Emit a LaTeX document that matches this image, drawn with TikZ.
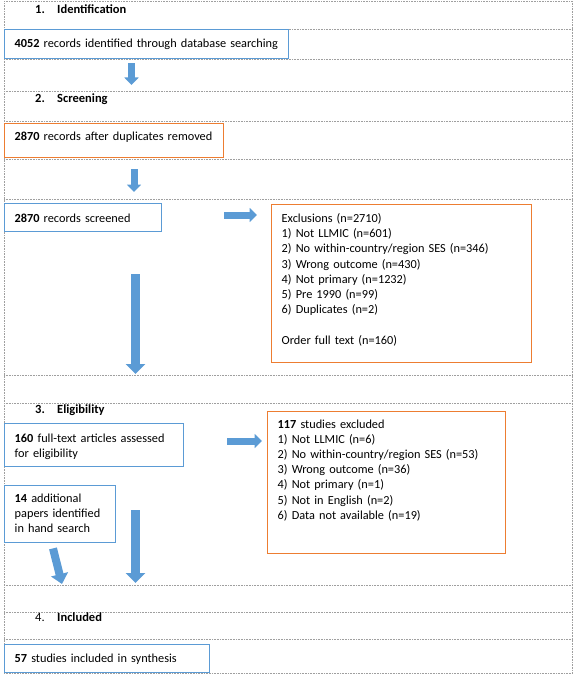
\documentclass[tikz,border=0pt]{standalone}
\usepackage{fontspec}
\setmainfont{Carlito}
\usepackage{tikz}
\usetikzlibrary{arrows.meta,calc}
\definecolor{boxblue}{HTML}{5B9BD5}
\definecolor{boxorange}{HTML}{ED7D31}
\definecolor{arrowblue}{HTML}{5B9BD5}
\pgfdeclarelayer{background}
\pgfsetlayers{background,main}
\tikzstyle{record}=[draw=boxblue, fill=white, line width=1.4pt, anchor=north west,
  inner xsep=10pt, inner ysep=0pt, align=left, font=\fontsize{12.3}{15.2}\selectfont]
\tikzstyle{excluded}=[record, draw=boxorange]
\tikzstyle{stagehead}=[anchor=base west, inner sep=0pt,
  font=\bfseries\fontsize{12.5}{14}\selectfont]
\tikzstyle{flow}=[draw=arrowblue, line width=7pt, -{Triangle[width=14pt,length=7.5pt]}]
\tikzstyle{bigflow}=[flow, line width=9pt, -{Triangle[width=19pt,length=10pt]}]
\tikzstyle{rowline}=[draw=gray!75, line width=0.5pt, dash pattern=on 0.8pt off 0.8pt]
\newcommand{\stagehead}[3]{node (head#1) [stagehead] {\makebox[22pt][l]{#2}#3}}

\begin{document}
\begin{tikzpicture}[x=1pt,y=-1pt]
  \useasboundingbox (0,0) rectangle (576,679);

  % Stage headings
  \path (35,13.5) \stagehead{1}{1.}{Identification};
  \path (35,102.7) \stagehead{2}{2.}{Screening};
  \path (35,413.3) \stagehead{3}{3.}{Eligibility};
  \path (35,621.7) \stagehead{4}{\mdseries 4.}{Included};

  % Records and exclusions (text height/depth fix the box top and bottom)
  \path (4,29) node (b4052) [record, text width=264pt, text height=17.5pt, text depth=11.5pt]
    {\textbf{4052} records identified through database searching};
  \path (4,123) node (b2870d) [record, draw=boxorange, text width=199pt,
    text height=17pt, text depth=17pt]
    {\textbf{2870} records after duplicates removed};
  \path (4,203) node (b2870s) [record, text width=137pt, text height=18.7pt, text depth=9.3pt]
    {\textbf{2870} records screened};
  \path (271,204) node (excl) [excluded, text width=240pt, text height=17.7pt, text depth=140.3pt]
    {Exclusions (n=2710)\\
     1) Not LLMIC (n=601)\\
     2) No within-country/region SES (n=346)\\
     3) Wrong outcome (n=430)\\
     4) Not primary (n=1232)\\
     5) Pre 1990 (n=99)\\
     6) Duplicates (n=2)\\
     \mbox{}\\
     Order full text (n=160)};
  \path (4,423) node (b160) [record, text width=159pt, text height=18.7pt, text depth=24.3pt]
    {\textbf{160} full-text articles assessed\\for eligibility};
  \path (4,485) node (b14) [record, text width=91pt, text height=16.7pt, text depth=40.3pt]
    {\textbf{14} additional\\papers identified\\in hand search};
  \path (267,411) node (excl2) [excluded, text width=218pt, text height=16.3pt, text depth=125.7pt]
    {\textbf{117} studies excluded\\
     1) Not LLMIC (n=6)\\
     2) No within-country/region SES (n=53)\\
     3) Wrong outcome (n=36)\\
     4) Not primary (n=1)\\
     5) Not in English (n=2)\\
     6) Data not available (n=19)};
  \path (4,644) node (b57) [record, text width=185pt, text height=17.7pt, text depth=10.3pt]
    {\textbf{57} studies included in synthesis};

  % Arrows between the boxes
  \path [flow] ($(b4052.south west)+(127.5,4)$) -- ($(b2870d.north west)+(127.5,-38)$);
  \path [flow] ($(b2870d.south west)+(130,11)$) -- ($(b2870s.north west)+(130,-11)$);
  \path [flow] ($(b2870s.north east)+(62,12)$) -- ($(excl.north west)+(-14,11)$);
  \path [bigflow] ($(b2870s.south west)+(131.5,42)$) -- ($(b160.north west)+(131.5,-49)$);
  \path [flow] ($(b160.north east)+(43,18)$) -- ($(excl2.north west)+(-5,30)$);
  \path [bigflow] ($(b160.south west)+(131.5,43)$) -- ($(b57.north west)+(131.5,-61)$);
  \path [bigflow, line width=8pt, -{Triangle[width=17pt,length=10pt]}]
    ($(b14.south west)+(49,5)$) -- ($(b57.north west)+(58,-60)$);

  % Dotted rows of the table
  \begin{pgfonlayer}{background}
    \path [rowline] (4,1.5) rectangle (572.5,673.5)
      (4,29) -- (572.5,29)
      (4,59.5) -- (572.5,59.5)
      (4,91) -- (572.5,91)
      (4,121.5) -- (572.5,121.5)
      (4,159) -- (572.5,159)
      (4,199) -- (572.5,199)
      (4,375) -- (572.5,375)
      (4,403) -- (572.5,403)
      (4,585.5) -- (572.5,585.5)
      (4,612.5) -- (572.5,612.5)
      (4,639) -- (572.5,639);
  \end{pgfonlayer}
\end{tikzpicture}
\end{document}
